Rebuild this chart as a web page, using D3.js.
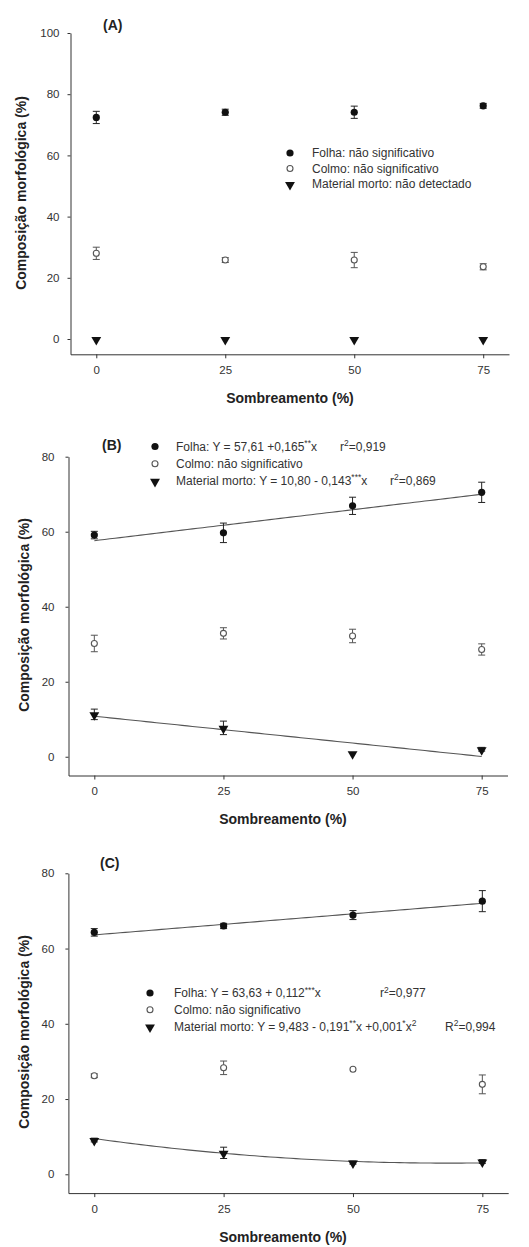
<!DOCTYPE html>
<html>
<head>
<meta charset="utf-8">
<script src="https://cdn.jsdelivr.net/npm/d3@7"></script>
<style>
  body { margin: 0; background: #fff; }
  svg { display: block; font-family: Arial, "Liberation Sans", sans-serif; }
  .tick text { fill: #333; font-size: 11.5px; }
  .tick line, .domain { stroke: #333; }
  .axis-title { font-weight: bold; font-size: 14px; fill: #222; }
  .legend text { font-size: 12px; fill: #333; }
</style>
</head>
<body>
<script>
// sombreamento levels
var doses = [0, 25, 50, 75];

// panel A
var folhaA = [72.4, 74.1, 74.1, 76.2];
var folhaAErr = [2.0, 1.0, 2.0, 0.8];
var colmoA = [28.0, 25.8, 25.8, 23.6];
var colmoAErr = [2.0, 0.8, 2.5, 1.0];
var mortoA = [0, 0, 0, 0];
var mortoAErr = [0, 0, 0, 0];

// panel B
var folhaB = [59.1, 59.7, 66.9, 70.5];
var folhaBErr = [1.0, 2.6, 2.3, 2.7];
var colmoB = [30.2, 32.9, 32.2, 28.6];
var colmoBErr = [2.2, 1.5, 1.8, 1.5];
var mortoB = [11.3, 7.7, 0.9, 2.0];
var mortoBErr = [1.4, 1.8, 0, 0.5];
var fitFolhaB = [57.61, 0.165];
var fitMortoB = [10.80, -0.143];

// panel C
var folhaC = [64.3, 66.0, 68.9, 72.6];
var folhaCErr = [1.0, 0.7, 1.2, 2.8];
var colmoC = [26.2, 28.3, 27.9, 23.9];
var colmoCErr = [0.5, 1.8, 0, 2.5];
var mortoC = [9.1, 5.7, 3.1, 3.4];
var mortoCErr = [0.5, 1.5, 0.4, 0.5];
var fitFolhaC = [63.63, 0.112];
var fitMortoC = [9.483, -0.191, 0.00140];

var xTicks = [0, 25, 50, 75];
var yTicksA = [0, 20, 40, 60, 80, 100];
var yTicksBC = [0, 20, 40, 60, 80];

var svg = d3.select("body").append("svg")
  .attr("width", 529)
  .attr("height", 1247);

function poly(c) {
  return function (x) {
    var y = 0;
    for (var i = 0; i < c.length; i++) y += c[i] * Math.pow(x, i);
    return y;
  };
}

function marker(g, type, x, y) {
  if (type == "folha") {
    g.append("circle").attr("cx", x).attr("cy", y).attr("r", 3.6).attr("fill", "#111");
  } else if (type == "colmo") {
    g.append("circle").attr("cx", x).attr("cy", y).attr("r", 3)
      .attr("fill", "#fff").attr("stroke", "#555").attr("stroke-width", 1.1);
  } else {
    g.append("path")
      .attr("d", d3.symbol().type(d3.symbolTriangle).size(42)())
      .attr("transform", `translate(${x},${y + 0.8}) rotate(180)`)
      .attr("fill", "#111");
  }
}

function drawPanel(p) {
  var x = d3.scaleLinear().domain([-5, 80]).range(p.xRange);
  var y = d3.scaleLinear().domain(p.yDomain).range(p.yRange);
  var g = svg.append("g");

  g.append("g")
    .attr("transform", `translate(0,${p.yRange[0]})`)
    .call(d3.axisBottom(x).tickValues(xTicks).tickSize(4).tickSizeOuter(0).tickPadding(7))
    .call(a => a.selectAll(".tick text").attr("dy", "0.75em"));

  g.append("g")
    .attr("transform", `translate(${p.xRange[0]},0)`)
    .call(d3.axisLeft(y).tickValues(p.yTicks).tickSize(3).tickSizeOuter(0).tickPadding(p.yPad));

  // regression lines
  var line = d3.line().x(d => x(d[0])).y(d => y(d[1]));
  p.fits.forEach(function (c) {
    var f = poly(c);
    var pts = d3.range(0, 75.5, 1).map(v => [v, f(v)]);
    g.append("path").attr("d", line(pts))
      .attr("fill", "none").attr("stroke", "#555").attr("stroke-width", 1.1);
  });

  // error bars then markers
  p.series.forEach(function (s) {
    doses.forEach(function (d, i) {
      var e = s.err[i];
      if (e > 0) {
        var cx = x(d), y1 = y(s.values[i] + e), y2 = y(s.values[i] - e);
        var col = s.type == "colmo" ? "#555" : "#222";
        g.append("line").attr("x1", cx).attr("x2", cx).attr("y1", y1).attr("y2", y2)
          .attr("stroke", col);
        [y1, y2].forEach(function (yy) {
          g.append("line").attr("x1", cx - 3.5).attr("x2", cx + 3.5)
            .attr("y1", yy).attr("y2", yy).attr("stroke", col);
        });
      }
    });
    doses.forEach(function (d, i) {
      marker(g, s.type, x(d), y(s.values[i]));
    });
  });

  // legend
  var lg = g.append("g").attr("class", "legend");
  p.legend.forEach(function (row, i) {
    var ly = p.legendY + i * p.legendStep;
    marker(lg, row.type, p.legendX, ly);
    row.parts.forEach(function (part) {
      var t = lg.append("text").attr("x", part.x).attr("y", ly + 4);
      var raised = false;
      part.segs.forEach(function (s) {
        var sp = t.append("tspan").text(s.t);
        if (s.sup) {
          sp.attr("font-size", "8.5px");
          if (!raised) sp.attr("dy", -4.5);
          raised = true;
        } else if (raised) {
          sp.attr("dy", 4.5);
          raised = false;
        }
      });
    });
  });

  g.append("text").attr("class", "axis-title")
    .attr("x", p.label[0]).attr("y", p.label[1]).text(p.name);

  g.append("text").attr("class", "axis-title")
    .attr("text-anchor", "middle")
    .attr("x", p.xTitle[0]).attr("y", p.xTitle[1])
    .text("Sombreamento (%)");

  g.append("text").attr("class", "axis-title")
    .attr("text-anchor", "middle")
    .attr("transform", `translate(${p.yTitle[0]},${p.yTitle[1]}) rotate(-90)`)
    .text("Composição morfológica (%)");
}

drawPanel({
  name: "(A)", label: [103, 30],
  xRange: [70.5, 509], yDomain: [-5, 100], yRange: [354.3, 33], yTicks: yTicksA, yPad: 8,
  xTitle: [290, 403], yTitle: [26, 193],
  fits: [],
  series: [
    { type: "folha", values: folhaA, err: folhaAErr },
    { type: "colmo", values: colmoA, err: colmoAErr },
    { type: "morto", values: mortoA, err: mortoAErr }
  ],
  legendX: 290, legendY: 153, legendStep: 15.5,
  legend: [
    { type: "folha", parts: [{ x: 312, segs: [{ t: "Folha: não significativo" }] }] },
    { type: "colmo", parts: [{ x: 312, segs: [{ t: "Colmo: não significativo" }] }] },
    { type: "morto", parts: [{ x: 312, segs: [{ t: "Material morto: não detectado" }] }] }
  ]
});

drawPanel({
  name: "(B)", label: [102, 450],
  xRange: [68.5, 507.5], yDomain: [-5, 80], yRange: [775.5, 456.7], yTicks: yTicksBC, yPad: 11,
  xTitle: [283, 824], yTitle: [29, 615],
  fits: [fitFolhaB, fitMortoB],
  series: [
    { type: "folha", values: folhaB, err: folhaBErr },
    { type: "colmo", values: colmoB, err: colmoBErr },
    { type: "morto", values: mortoB, err: mortoBErr }
  ],
  legendX: 155, legendY: 446.5, legendStep: 17.2,
  legend: [
    { type: "folha", parts: [
      { x: 176, segs: [{ t: "Folha: Y = 57,61 +0,165" }, { t: "**", sup: true }, { t: "x" }] },
      { x: 340, segs: [{ t: "r" }, { t: "2", sup: true }, { t: "=0,919" }] }
    ] },
    { type: "colmo", parts: [{ x: 176, segs: [{ t: "Colmo: não significativo" }] }] },
    { type: "morto", parts: [
      { x: 176, segs: [{ t: "Material morto: Y = 10,80 - 0,143" }, { t: "***", sup: true }, { t: "x" }] },
      { x: 390, segs: [{ t: "r" }, { t: "2", sup: true }, { t: "=0,869" }] }
    ] }
  ]
});

drawPanel({
  name: "(C)", label: [100, 868],
  xRange: [68.4, 508.2], yDomain: [-5, 80], yRange: [1193.1, 873.3], yTicks: yTicksBC, yPad: 11,
  xTitle: [283, 1242], yTitle: [29, 1032],
  fits: [fitFolhaC, fitMortoC],
  series: [
    { type: "folha", values: folhaC, err: folhaCErr },
    { type: "colmo", values: colmoC, err: colmoCErr },
    { type: "morto", values: mortoC, err: mortoCErr }
  ],
  legendX: 150, legendY: 993, legendStep: 16.8,
  legend: [
    { type: "folha", parts: [
      { x: 174, segs: [{ t: "Folha: Y = 63,63 + 0,112" }, { t: "***", sup: true }, { t: "x" }] },
      { x: 380, segs: [{ t: "r" }, { t: "2", sup: true }, { t: "=0,977" }] }
    ] },
    { type: "colmo", parts: [{ x: 174, segs: [{ t: "Colmo: não significativo" }] }] },
    { type: "morto", parts: [
      { x: 174, segs: [{ t: "Material morto: Y = 9,483 - 0,191" }, { t: "**", sup: true }, { t: "x +0,001" },
        { t: "*", sup: true }, { t: "x" }, { t: "2", sup: true }] },
      { x: 445, segs: [{ t: "R" }, { t: "2", sup: true }, { t: "=0,994" }] }
    ] }
  ]
});
</script>
</body>
</html>
